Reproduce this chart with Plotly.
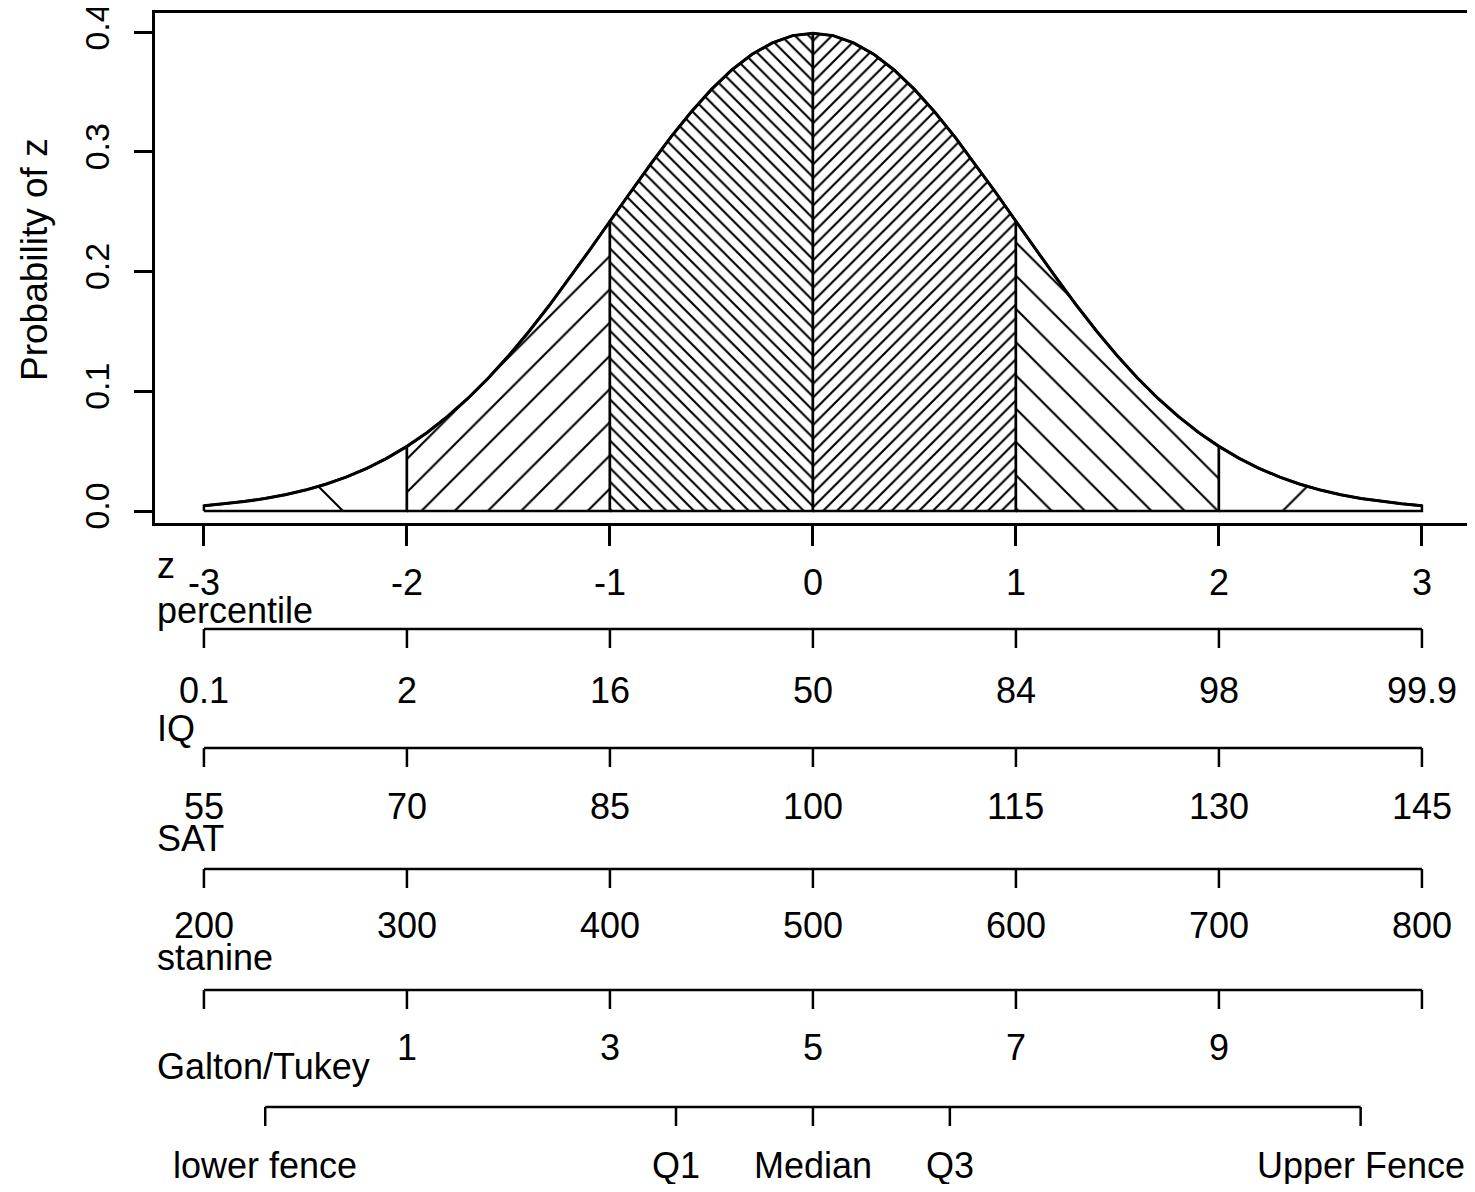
import plotly.graph_objects as go

# ---------------- data ----------------
z_grid = [round(-3 + 0.1 * i, 1) for i in range(61)]
density = [
    0.0044, 0.0060, 0.0079, 0.0104, 0.0136, 0.0175, 0.0224, 0.0283, 0.0355, 0.0440,
    0.0540, 0.0656, 0.0790, 0.0940, 0.1109, 0.1295, 0.1497, 0.1714, 0.1942, 0.2179,
    0.2420, 0.2661, 0.2897, 0.3123, 0.3332, 0.3521, 0.3683, 0.3814, 0.3910, 0.3970,
    0.3989,
    0.3970, 0.3910, 0.3814, 0.3683, 0.3521, 0.3332, 0.3123, 0.2897, 0.2661, 0.2420,
    0.2179, 0.1942, 0.1714, 0.1497, 0.1295, 0.1109, 0.0940, 0.0790, 0.0656, 0.0540,
    0.0440, 0.0355, 0.0283, 0.0224, 0.0175, 0.0136, 0.0104, 0.0079, 0.0060, 0.0044,
]
region_bounds = [-3, -2, -1, 0, 1, 2, 3]

z_ticks = [-3, -2, -1, 0, 1, 2, 3]
z_labels = ["-3", "-2", "-1", "0", "1", "2", "3"]
percentile_labels = ["0.1", "2", "16", "50", "84", "98", "99.9"]
iq_labels = ["55", "70", "85", "100", "115", "130", "145"]
sat_labels = ["200", "300", "400", "500", "600", "700", "800"]
stanine_labels = ["", "1", "3", "5", "7", "9", ""]
galton_z = [-2.698, -0.6745, 0.0, 0.6745, 2.698]
galton_labels = ["lower fence", "Q1", "Median", "Q3", "Upper Fence"]

y_ticks = [0.0, 0.1, 0.2, 0.3, 0.4]
y_labels = ["0.0", "0.1", "0.2", "0.3", "0.4"]

# ---------------- styles / layout ----------------
region_hatch = ["\\", "/", "\\", "/", "\\", "/"]
region_size = [109.6, 23.5, 9.7, 9.7, 23.5, 104.5]
HATCH_W = 2.1

OFF = 8  # page body margin (both sides), so the page fits the window exactly
W, H = 1475 - 2 * OFF, 1192 - 2 * OFF
ML, MT = 155 - OFF, 13 - OFF           # screen px of plot box left / top
MR = W - (1467 - OFF)                  # plot box right at screen px 1467
MB = H - (523 - OFF)                   # plot box bottom at screen px 523
PLOT_W = W - ML - MR
PLOT_H = H - MT - MB
FONT = "Liberation Sans, Arial, Helvetica, sans-serif"
FS = 36
TICKLEN = 19


def ypaper(px):
    return (H - MB - (px - OFF)) / PLOT_H


fig = go.Figure()

# hatched regions
for i in range(len(region_bounds) - 1):
    a, b = region_bounds[i], region_bounds[i + 1]
    xs, ys = [a], [0]
    for zz, dd in zip(z_grid, density):
        if a - 1e-9 <= zz <= b + 1e-9:
            xs.append(zz)
            ys.append(dd)
    xs += [b, a]
    ys += [0, 0]
    size = region_size[i]
    fig.add_trace(go.Scatter(
        x=xs, y=ys, mode="lines", fill="toself",
        fillcolor="white",
        fillpattern=dict(shape=region_hatch[i], size=size, solidity=HATCH_W / size,
                         fgcolor="black", bgcolor="white", fgopacity=1, fillmode="replace"),
        line=dict(color="black", width=2.5),
        hoverinfo="skip", showlegend=False,
    ))

# the curve
fig.add_trace(go.Scatter(
    x=z_grid, y=density, mode="lines",
    line=dict(color="black", width=3),
    hoverinfo="skip", showlegend=False,
))

# ---------------- extra scales below the plot ----------------
rows = [
    # name, tick positions (z), labels, line y px, name y px, label y px
    ("percentile", z_ticks, percentile_labels, 629, 610, 690),
    ("IQ", z_ticks, iq_labels, 748, 728, 806),
    ("SAT", z_ticks, sat_labels, 869, 838, 926),
    ("stanine", z_ticks, stanine_labels, 990, 957, 1047),
    ("Galton/Tukey", galton_z, galton_labels, 1107, 1067, 1165),
]

shapes = []
annotations = []
line_style = dict(color="black", width=2.5)

annotations.append(dict(
    x=0, y=ypaper(565), xref="paper", yref="paper", text="z", showarrow=False,
    xanchor="left", yanchor="middle", font=dict(family=FONT, size=FS, color="black"),
))

for name, ticks, labels, line_px, name_px, lab_px in rows:
    shapes.append(dict(type="line", xref="x", yref="paper",
                       x0=ticks[0], x1=ticks[-1], y0=ypaper(line_px), y1=ypaper(line_px),
                       line=line_style))
    for t, lab in zip(ticks, labels):
        shapes.append(dict(type="line", xref="x", yref="paper",
                           x0=t, x1=t, y0=ypaper(line_px), y1=ypaper(line_px + TICKLEN),
                           line=line_style))
        if lab:
            annotations.append(dict(
                x=t, y=ypaper(lab_px), xref="x", yref="paper", text=lab, showarrow=False,
                xanchor="center", yanchor="middle",
                font=dict(family=FONT, size=FS, color="black"),
            ))
    annotations.append(dict(
        x=0, y=ypaper(name_px), xref="paper", yref="paper", text=name, showarrow=False,
        xanchor="left", yanchor="middle", font=dict(family=FONT, size=FS, color="black"),
    ))

# y axis title
annotations.append(dict(
    x=(35 - 155) / PLOT_W, y=ypaper(260), xref="paper", yref="paper",
    text="Probability of z", showarrow=False, textangle=-90,
    xanchor="center", yanchor="middle", font=dict(family=FONT, size=37, color="black"),
))

fig.update_layout(
    template="none",
    width=W, height=H,
    margin=dict(l=ML, r=MR, t=MT, b=MB, pad=0, autoexpand=False),
    paper_bgcolor="white", plot_bgcolor="white",
    showlegend=False,
    shapes=shapes, annotations=annotations,
    xaxis=dict(
        range=[-3.241, 3.222], showgrid=False, zeroline=False, automargin=False,
        showline=True, mirror=True, linecolor="black", linewidth=2.5,
        ticks="outside", ticklen=20, tickwidth=2.5, tickcolor="black",
        tickvals=z_ticks, ticktext=z_labels, ticklabelstandoff=6,
        tickfont=dict(family=FONT, size=FS, color="black"),
    ),
    yaxis=dict(
        range=[-0.010, 0.4159], showgrid=False, zeroline=False, automargin=False,
        showline=True, mirror=True, linecolor="black", linewidth=2.5,
        ticks="outside", ticklen=18, tickwidth=2.5, tickcolor="black",
        tickvals=y_ticks, ticktext=y_labels, tickangle=-90, ticklabelstandoff=12,
        ticklabeloverflow="allow",
        tickfont=dict(family=FONT, size=34, color="black"),
    ),
)

fig.write_html("out.html")
